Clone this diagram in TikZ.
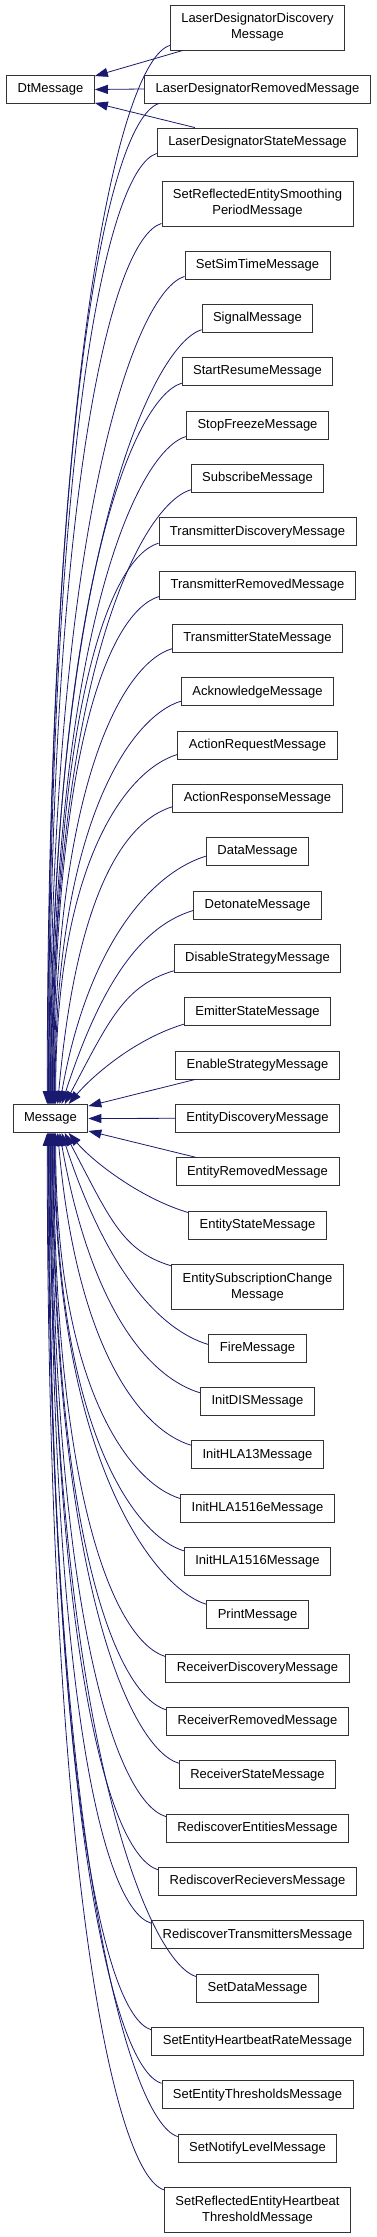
\documentclass[tikz,border=0pt]{standalone}
\usepackage{fontspec}
\setmainfont{Liberation Sans}
\usetikzlibrary{arrows.meta,calc}
\definecolor{edgec}{HTML}{191970}
\begin{document}
\begin{tikzpicture}[x=1pt,y=1pt,
  box/.style={draw=black!80, line width=0.9pt, fill=white, minimum height=28pt,
    inner xsep=11pt, inner ysep=2pt, font=\fontsize{13}{16}\selectfont},
  box2/.style={box, minimum height=45pt, align=center},
  e/.style={draw=edgec, line width=0.8pt, {Triangle[length=13pt,width=9pt]}-}]
\useasboundingbox (0,0) rectangle (376,-2237);
\node[box] (dt) at (50.5,-89.5) {DtMessage};
\node[box] (m) at (50.5,-1118.5) {Message};
\node[box2] (ldd) at (257.5,-27.5) {LaserDesignatorDiscovery\\Message};
\node[box] (ldr) at (257.5,-89) {LaserDesignatorRemovedMessage};
\node[box] (lds) at (257.5,-142) {LaserDesignatorStateMessage};
\node[box2] (srs) at (257.5,-203.5) {SetReflectedEntitySmoothing\\PeriodMessage};
\node[box] (sst) at (257.5,-265) {SetSimTimeMessage};
\node[box] (sig) at (257.5,-318.3) {SignalMessage};
\node[box] (sr) at (257.5,-371.7) {StartResumeMessage};
\node[box] (sf) at (257.5,-425) {StopFreezeMessage};
\node[box] (sub) at (257.5,-478.3) {SubscribeMessage};
\node[box] (td) at (257.5,-531.7) {TransmitterDiscoveryMessage};
\node[box] (tr) at (257.5,-585) {TransmitterRemovedMessage};
\node[box] (ts) at (257.5,-638.3) {TransmitterStateMessage};
\node[box] (ack) at (257.5,-691.7) {AcknowledgeMessage};
\node[box] (areq) at (257.5,-745) {ActionRequestMessage};
\node[box] (aresp) at (257.5,-798.3) {ActionResponseMessage};
\node[box] (data) at (257.5,-851.7) {DataMessage};
\node[box] (det) at (257.5,-905) {DetonateMessage};
\node[box] (dis) at (257.5,-958.3) {DisableStrategyMessage};
\node[box] (emit) at (257.5,-1011.7) {EmitterStateMessage};
\node[box] (enable) at (257.5,-1065) {EnableStrategyMessage};
\node[box] (ed) at (257.5,-1118.3) {EntityDiscoveryMessage};
\node[box] (er) at (257.5,-1171.7) {EntityRemovedMessage};
\node[box] (es) at (257.5,-1225) {EntityStateMessage};
\node[box2] (esc) at (257.5,-1286.8) {EntitySubscriptionChange\\Message};
\node[box] (fire) at (257.5,-1348) {FireMessage};
\node[box] (idis) at (257.5,-1401.3) {InitDISMessage};
\node[box] (h13) at (257.5,-1454.7) {InitHLA13Message};
\node[box] (h1516e) at (257.5,-1508) {InitHLA1516eMessage};
\node[box] (h1516) at (257.5,-1561.3) {InitHLA1516Message};
\node[box] (print) at (257.5,-1614.7) {PrintMessage};
\node[box] (rd) at (257.5,-1668) {ReceiverDiscoveryMessage};
\node[box] (rr) at (257.5,-1721.3) {ReceiverRemovedMessage};
\node[box] (rs) at (257.5,-1774.7) {ReceiverStateMessage};
\node[box] (re) at (257.5,-1828) {RediscoverEntitiesMessage};
\node[box] (rrec) at (257.5,-1881.3) {RediscoverRecieversMessage};
\node[box] (rt) at (257.5,-1934.7) {RediscoverTransmittersMessage};
\node[box] (sdata) at (257.5,-1988) {SetDataMessage};
\node[box] (sehr) at (257.5,-2041.3) {SetEntityHeartbeatRateMessage};
\node[box] (set) at (257.5,-2094.7) {SetEntityThresholdsMessage};
\node[box] (snl) at (257.5,-2148) {SetNotifyLevelMessage};
\node[box2] (sreh) at (257.5,-2209.8) {SetReflectedEntityHeartbeat\\ThresholdMessage};
% DtMessage edges
\draw[e] ([yshift=-1pt]dt.north east) -- ([xshift=13pt]ldd.south west);
\draw[e] (dt.east) -- (ldr.west);
\draw[e] ([yshift=1pt]dt.south east) -- ([xshift=38pt]lds.north west);
% Message straight edges
\draw[e] ([yshift=-2pt]m.north east) -- ([xshift=20pt]enable.south west);
\draw[e] (m.east) -- (ed.west);
\draw[e] ([yshift=2pt]m.south east) -- ([xshift=20pt]er.north west);
% upper curved edges
\foreach \n/\sx/\oa/\b/\ax/\ay in {
  ldd/34.55/90/740/0/5, ldr/35.2/90/703/15/0, lds/35.85/90/666/0/3,
  srs/36.5/90/617/0/3, sst/37.15/90/580/0/3, sig/37.8/90/542/0/3,
  sr/38.45/90/505/0/3, sf/39.1/90/468/0/3, sub/39.75/90/430/0/3,
  td/40.4/90/393/0/3, tr/41.05/90/356/0/3, ts/41.7/90/318/0/4,
  ack/42.35/90/281/0/5, areq/43/90/244/0/5, aresp/45/85/206/0/6,
  data/47/80/169/0/10, det/49/72/132/0/9, dis/52/62/94/0/2, emit/56/50/35/0/2}
  \draw[e] ([xshift=\sx pt]m.north west) coordinate (s)
    .. controls ($(s)+(\oa:\b pt)$) and ($([xshift=\ax pt, yshift=\ay pt]\n.south west)+(-50,-15)$)
    .. ([xshift=\ax pt, yshift=\ay pt]\n.south west);
% lower curved edges
\foreach \n/\sx/\oa/\b/\ax/\ay in {
  es/56/50/35/0/2, esc/52/62/95/0/2, fire/49/72/143/0/11,
  idis/47/80/181/0/6, h13/45/85/218/0/5, h1516e/43/90/255/0/5,
  h1516/42.35/90/293/0/4, print/41.7/90/330/0/4, rd/41.05/90/367/0/3,
  rr/40.4/90/405/0/3, rs/39.75/90/442/0/3, re/39.1/90/480/0/3,
  rrec/38.45/90/517/0/3, rt/37.8/90/554/0/3, sdata/37.15/90/591/0/3,
  sehr/36.5/90/629/0/3, set/35.85/90/666/0/3, snl/35.2/90/703/0/3,
  sreh/34.55/90/741/0/3}
  \draw[e] ([xshift=\sx pt]m.south west) coordinate (s)
    .. controls ($(s)+(-\oa:\b pt)$) and ($([xshift=\ax pt, yshift=-\ay pt]\n.north west)+(-50,15)$)
    .. ([xshift=\ax pt, yshift=-\ay pt]\n.north west);
\end{tikzpicture}
\end{document}
